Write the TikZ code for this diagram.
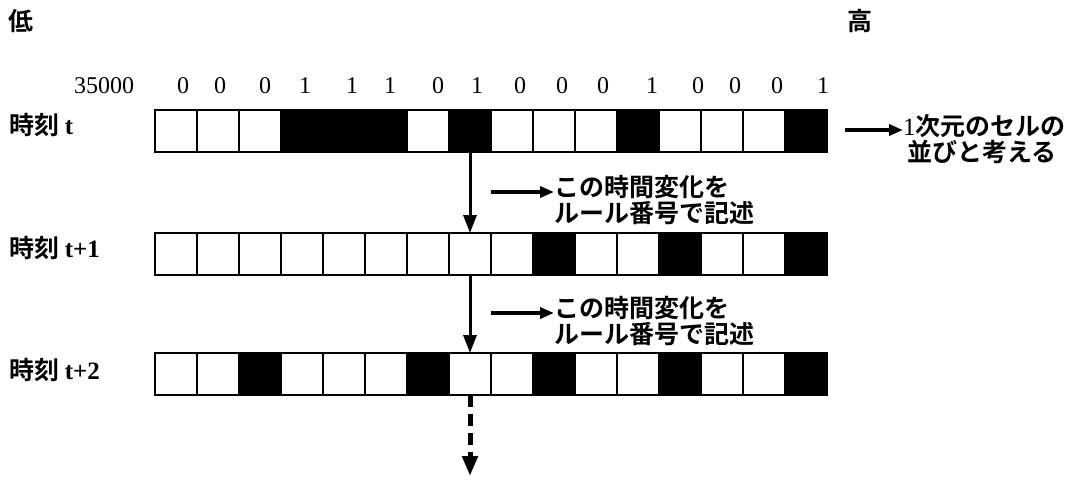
\documentclass[tikz,border=0pt]{standalone}
\usepackage{fontspec}
\setmainfont{Liberation Serif}
\newfontfamily\jp{Noto Sans CJK JP Bold}
\newcommand\lat[1]{{\rmfamily\bfseries\fontsize{25}{25}\selectfont #1}}
\usetikzlibrary{arrows.meta}
\begin{document}
\begin{tikzpicture}[x=1pt,y=-1pt,
  cell/.style={draw, line width=2pt, minimum width=42pt, minimum height=42pt, inner sep=0pt, outer sep=0pt},
  jtext/.style={font=\jp\fontsize{25}{26}\selectfont, inner sep=0pt},
  num/.style={font=\fontsize{24}{24}\selectfont, inner sep=0pt},
  flow/.style={line width=3pt, -{Triangle[length=18pt,width=13pt]}},
  side/.style={line width=4pt, -{Triangle[length=14pt,width=11pt]}},
]
\useasboundingbox[fill=white] (0,0) rectangle (1082,480);

% row t
\foreach \c [count=\i from 0] in {white,white,white,black,black,black,white,black,white,white,white,black,white,white,white,black}
  \node[cell, fill=\c] (a\i) at ({176+42*\i},131) {};
% row t+1
\foreach \c [count=\i from 0] in {white,white,white,white,white,white,white,white,white,black,white,white,black,white,white,black}
  \node[cell, fill=\c] (b\i) at ({176+42*\i},254) {};
% row t+2
\foreach \c [count=\i from 0] in {white,white,black,white,white,white,black,white,white,black,white,white,black,white,white,black}
  \node[cell, fill=\c] (c\i) at ({176+42*\i},374) {};

% bit values
\node[num] (n35) at (104,86) {35000};
\foreach \d/\x [count=\i] in {0/183,0/220,0/265,1/305,1/352,1/390,0/438,1/477,0/520,0/562,0/603,1/652,0/698,0/735,0/777,1/823}
  \node[num] (d\i) at (\x,86) {\d};

% low / high
\node[jtext] (low) at (21,21) {低};
\node[jtext] (high) at (860,21) {高};

% row labels
\node[jtext, anchor=west] (lt0) at (9,125) {時刻 \lat{t}};
\node[jtext, anchor=west] (lt1) at (9,248) {時刻 \lat{t+1}};
\node[jtext, anchor=west] (lt2) at (9,370) {時刻 \lat{t+2}};

% vertical arrows
\draw[flow] (a7.south) -- (b7.north);
\draw[flow] (b7.south) -- (c7.north);
\coordinate (dend) at (470,476);
\draw[line width=5pt, dash pattern=on 12pt off 7pt, -{Triangle[length=20pt,width=15pt]}] (c7.south) -- (dend);

% side notes
\node[jtext, anchor=west, align=left] (m1) at (554,200) {この時間変化を\\ルール番号で記述};
\coordinate (s1) at (491,192);
\draw[side] (s1) -- (s1 -| m1.west);
\node[jtext, anchor=west, align=left] (m2) at (554,321) {この時間変化を\\ルール番号で記述};
\coordinate (s2) at (491,313);
\draw[side] (s2) -- (s2 -| m2.west);
\node[jtext, anchor=west, align=left] (m3) at (903,139) {{\rmfamily\fontsize{25}{25}\selectfont 1}次元のセルの\\\,並びと考える};
\coordinate (s3) at (845,130);
\draw[side] (s3) -- (s3 -| m3.west);
\end{tikzpicture}
\end{document}
